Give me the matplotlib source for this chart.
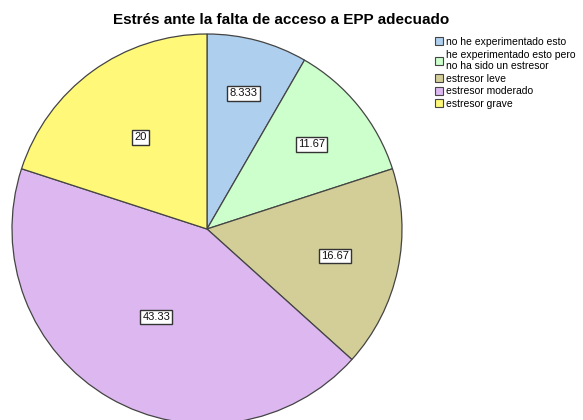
import numpy as np
import matplotlib
matplotlib.use("Agg")
import matplotlib.pyplot as plt
from matplotlib.patches import Patch

title = "Estrés ante la falta de acceso a EPP adecuado"
categories = ["no he experimentado esto",
              "he experimentado esto pero\nno ha sido un estresor",
              "estresor leve", "estresor moderado", "estresor grave"]
values = [8.333, 11.67, 16.67, 43.33, 20]
value_labels = ["8.333", "11.67", "16.67", "43.33", "20"]
colors = ["#AECFEE", "#CCFFCC", "#D3CE98", "#DDB8F0", "#FFF878"]
label_radius = [0.72, 0.69, 0.67, 0.52, 0.58]

plt.rcParams['font.family'] = ['Liberation Sans', 'DejaVu Sans']

W, H = 583, 420
fig = plt.figure(figsize=(W / 100, H / 100), dpi=100)
cx, cy, r = 207, 420 - 229, 195
ax = fig.add_axes([(cx - r) / W, (cy - r) / H, 2 * r / W, 2 * r / H])
wedges, _ = ax.pie(values, colors=colors, startangle=90, counterclock=False,
                   radius=1, wedgeprops=dict(edgecolor="#444444", linewidth=0.9))
for w in wedges:
    w.set_clip_on(False)
ax.set_xlim(-1, 1)
ax.set_ylim(-1, 1)
ax.set_aspect('equal')
ax.axis('off')

for w, lab, rr in zip(wedges, value_labels, label_radius):
    ang = np.deg2rad((w.theta1 + w.theta2) / 2)
    ax.text(rr * np.cos(ang), rr * np.sin(ang), lab, ha='center', va='center',
            fontsize=8, color='#111111', clip_on=False,
            bbox=dict(boxstyle='square,pad=0.2', fc='white', ec='#333333', lw=1.0))

fig.text(281 / W, 1 - 20 / H, title, ha='center', va='center',
         fontsize=11, fontweight='bold')

handles = [Patch(facecolor=c, edgecolor='#444444', linewidth=0.8) for c in colors]
fig.legend(handles, categories, loc='upper left',
           bbox_to_anchor=(435 / W, 1 - 37 / H), frameon=False,
           fontsize=7.5, handlelength=0.8, handleheight=0.8, handletextpad=0.3,
           labelspacing=0.25, borderpad=0, borderaxespad=0)

fig.savefig("out.png", dpi=100)
